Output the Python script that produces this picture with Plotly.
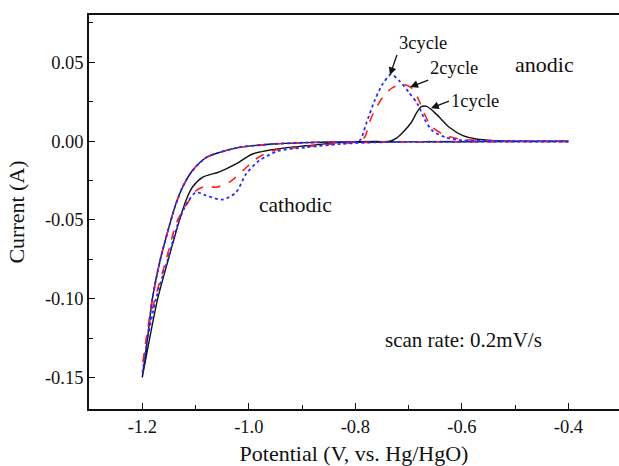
import plotly.graph_objects as go

# ---- data ----
# cycle 1: cathodic (forward) scan from -0.4 to -1.2 V
V1f = [-0.40, -0.50, -0.60, -0.70, -0.78, -0.83, -0.893, -0.949, -0.993, -1.024, -1.055, -1.087,
       -1.106, -1.118, -1.130, -1.151, -1.171, -1.186, -1.200]
I1f = [-0.0003, -0.0003, -0.0004, -0.0005, -0.0007, -0.0010, -0.0030, -0.0051, -0.0082, -0.0145,
       -0.0195, -0.0230, -0.0293, -0.0377, -0.0500, -0.075, -0.100, -0.125, -0.150]
# cycle 1: anodic (reverse) scan from -1.2 to -0.4 V
V1r = [-1.200, -1.190, -1.181, -1.166, -1.146, -1.137, -1.124, -1.106, -1.080, -1.055, -1.018, -0.955,
       -0.893, -0.830, -0.760, -0.735, -0.722, -0.708, -0.695, -0.684, -0.676, -0.666, -0.648, -0.623,
       -0.598, -0.573, -0.54, -0.50, -0.40]
I1r = [-0.150, -0.125, -0.100, -0.075, -0.050, -0.040, -0.029, -0.0188, -0.0104, -0.0072, -0.0040,
       -0.0019, -0.0010, -0.0005, -0.0003, -0.0001, 0.0020, 0.0065, 0.0118, 0.0185, 0.0218, 0.0220,
       0.0171, 0.0086, 0.0034, 0.0013, 0.0003, 0.0, 0.0]

# cycle 2
V2f = [-0.40, -0.50, -0.60, -0.70, -0.78, -0.83, -0.893, -0.955, -0.987, -1.011, -1.037, -1.062,
       -1.080, -1.099, -1.112, -1.134, -1.155, -1.176, -1.190, -1.200]
I2f = [-0.0003, -0.0003, -0.0004, -0.0005, -0.0008, -0.0015, -0.0036, -0.0061, -0.0114, -0.0188,
       -0.0262, -0.0293, -0.0285, -0.0314, -0.0377, -0.0504, -0.075, -0.100, -0.120, -0.143]
V2r = [-1.200, -1.190, -1.181, -1.166, -1.146, -1.137, -1.124, -1.106, -1.080, -1.055, -1.018, -0.955,
       -0.893, -0.830, -0.795, -0.783, -0.770, -0.749, -0.730, -0.711, -0.695, -0.683, -0.670, -0.658,
       -0.636, -0.605, -0.55, -0.50, -0.40]
I2r = [-0.143, -0.120, -0.100, -0.075, -0.050, -0.040, -0.029, -0.0188, -0.0104, -0.0072, -0.0040,
       -0.0019, -0.0010, -0.0005, -0.0003, 0.0023, 0.0149, 0.0276, 0.0339, 0.0360, 0.0339, 0.0276,
       0.0171, 0.0097, 0.0044, 0.0013, 0.0003, 0.0, 0.0]

# cycle 3
V3f = [-0.40, -0.50, -0.60, -0.70, -0.78, -0.83, -0.893, -0.943, -0.981, -1.005, -1.024, -1.049,
       -1.080, -1.099, -1.115, -1.131, -1.152, -1.174, -1.190, -1.200]
I3f = [-0.0003, -0.0003, -0.0004, -0.0005, -0.0010, -0.0019, -0.0040, -0.0061, -0.0125, -0.0209,
       -0.0325, -0.0371, -0.0346, -0.0325, -0.0388, -0.0504, -0.075, -0.100, -0.125, -0.148]
V3r = [-1.200, -1.190, -1.181, -1.166, -1.146, -1.137, -1.124, -1.106, -1.080, -1.055, -1.018, -0.955,
       -0.893, -0.830, -0.797, -0.790, -0.780, -0.764, -0.749, -0.733, -0.717, -0.699, -0.683, -0.670,
       -0.655, -0.630, -0.60, -0.55, -0.50, -0.40]
I3r = [-0.148, -0.125, -0.100, -0.075, -0.050, -0.040, -0.029, -0.0188, -0.0104, -0.0072, -0.0040,
       -0.0019, -0.0010, -0.0005, -0.0003, 0.0010, 0.0107, 0.0255, 0.0360, 0.0423, 0.0381, 0.0307,
       0.0234, 0.0139, 0.0065, 0.0023, 0.0005, 0.0001, 0.0, 0.0]

x_tickvals = [-1.2, -1.0, -0.8, -0.6, -0.4]
x_ticktext = ["-1.2", "-1.0", "-0.8", "-0.6", "-0.4"]
y_tickvals = [0.05, 0.00, -0.05, -0.10, -0.15]
y_ticktext = ["0.05", "0.00", "-0.05", "-0.10", "-0.15"]

FONT = "Liberation Serif"

fig = go.Figure()
series = [
    (V1f + V1r, I1f + I1r, "#111111", "solid", 1.4),
    (V2f + V2r, I2f + I2r, "#ff2020", "dash", 1.6),
    (V3f + V3r, I3f + I3r, "#2a2aff", "dot", 1.8),
]
for xs, ys, col, dash, w in series:
    fig.add_trace(go.Scatter(x=xs, y=ys, mode="lines",
                             line=dict(color=col, dash=dash, width=w, shape="spline", smoothing=0.8),
                             showlegend=False, hoverinfo="skip"))

ann_font = dict(family=FONT, size=18.5, color="#111111")
arrow = dict(showarrow=True, arrowhead=2, arrowsize=1.2, arrowwidth=1.3, arrowcolor="#111111")
fig.add_annotation(x=-0.735, y=0.0419, text="3cycle", ax=7, ay=-20,
                   font=ann_font, xanchor="left", yanchor="bottom", **arrow)
fig.add_annotation(x=-0.697, y=0.0343, text="2cycle", ax=18, ay=-7,
                   font=ann_font, xanchor="left", yanchor="bottom", **arrow)
fig.add_annotation(x=-0.658, y=0.0209, text="1cycle", ax=18, ay=-7,
                   font=ann_font, xanchor="left", yanchor="middle", **arrow)
fig.add_annotation(x=-0.445, y=0.0487, text="anodic", showarrow=False,
                   font=dict(family=FONT, size=22, color="#111111"))
fig.add_annotation(x=-0.912, y=-0.0405, text="cathodic", showarrow=False,
                   font=dict(family=FONT, size=21.5, color="#111111"))
fig.add_annotation(x=-0.597, y=-0.1260, text="scan rate: 0.2mV/s", showarrow=False,
                   font=dict(family=FONT, size=21, color="#111111"))

fig.update_layout(
    width=619, height=466,
    margin=dict(l=89, r=0, t=15, b=57),
    paper_bgcolor="white", plot_bgcolor="white",
    font=dict(family=FONT, size=18.5, color="#111111"),
    xaxis=dict(range=[-1.3, -0.305], showgrid=False, zeroline=False,
               showline=True, linecolor="#111111", linewidth=1.6, mirror=True,
               ticks="inside", ticklen=6, tickwidth=1.3, tickcolor="#111111",
               tickvals=x_tickvals, ticktext=x_ticktext,
               minor=dict(ticks="inside", ticklen=4, tickwidth=1.2, tickcolor="#111111", dtick=0.1, tick0=0),
               title=dict(text="Potential (V, vs. Hg/HgO)", font=dict(family=FONT, size=22), standoff=10),
               automargin=False),
    yaxis=dict(range=[-0.17, 0.08], showgrid=False, zeroline=False,
               showline=True, linecolor="#111111", linewidth=1.6, mirror=False,
               ticks="inside", ticklen=6, tickwidth=1.3, tickcolor="#111111",
               tickvals=y_tickvals, ticktext=y_ticktext,
               minor=dict(ticks="inside", ticklen=4, tickwidth=1.2, tickcolor="#111111", dtick=0.025, tick0=0),
               title=dict(text="Current (A)", font=dict(family=FONT, size=22), standoff=14),
               automargin=False),
)

fig.write_html("out.html")
